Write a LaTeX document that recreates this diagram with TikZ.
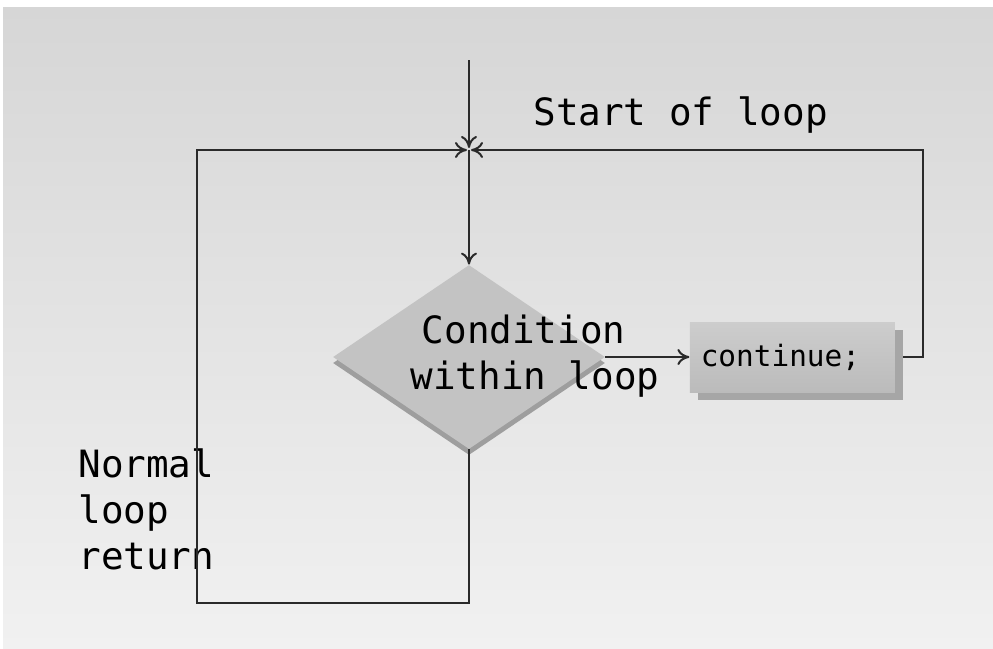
\documentclass[tikz,border=0pt]{standalone}
\usepackage{fontspec}
\newfontfamily\codefont{DejaVu Sans Mono}
\usetikzlibrary{positioning, shapes.geometric, arrows.meta, shadows}

\definecolor{bgtop}{HTML}{D6D6D6}
\definecolor{bgbot}{HTML}{F1F1F1}
\definecolor{facegray}{HTML}{C3C3C3}
\definecolor{shadegray}{HTML}{9E9E9E}
\definecolor{boxtop}{HTML}{CDCDCD}
\definecolor{boxbot}{HTML}{BBBBBB}
\definecolor{boxshade}{HTML}{A6A6A6}
\definecolor{ink}{HTML}{2A2A2A}

\begin{document}
\begin{tikzpicture}[x=0.5pt, y=-0.5pt,
    decision/.style={diamond, fill=facegray, minimum width=136pt, minimum height=92pt, inner sep=0pt,
        drop shadow={shadow xshift=0pt, shadow yshift=-3pt, fill=shadegray, opacity=1}},
    box/.style={rectangle, top color=boxtop, bottom color=boxbot, minimum height=35pt, text width=91.5pt,
        inner xsep=5.5pt, align=left, font=\codefont\fontsize{14.7}{17}\selectfont,
        drop shadow={shadow xshift=4pt, shadow yshift=-4pt, fill=boxshade, opacity=1}},
    txt/.style={font=\codefont\fontsize{18.8}{23}\selectfont, inner sep=0pt},
    arrow/.style={-{To[length=6pt, width=8pt]}, line width=1pt, draw=ink}
]
\useasboundingbox (0,0) rectangle (993,649);
\fill[white] (0,0) rectangle (993,649);
\shade[top color=bgtop, bottom color=bgbot] (3,7) rectangle (993,649);

\node[decision] (cond) at (469,357) {};
\node[txt, align=center] (condtext) at (535,356) {Condition\hphantom{n}\\within loop};
\node[box, right=42pt of cond] (cont) {continue;};

\node[txt, anchor=west] (startlbl) at (533,115) {Start of loop};
\node[txt, align=left, anchor=north west] (normlbl) at (78,448) {Normal\\loop\\return};

\coordinate (entry) at (469,60);
\coordinate (join) at (469,150);
\coordinate (tl) at (197,150);
\coordinate (bl) at (197,603);
\coordinate (tr) at (923,150);

\draw[arrow, shorten >=1pt] (entry) -- (join);
\draw[arrow] (join) -- (cond.north);
\draw[arrow] (cond.east) -- (cont.west);
\draw[arrow, shorten >=1pt] ([xshift=4pt]cont.east) -| (tr) -- (join);
\draw[arrow, shorten >=1pt] (cond.south) |- (bl) -- (tl) -- (join);
\end{tikzpicture}
\end{document}
